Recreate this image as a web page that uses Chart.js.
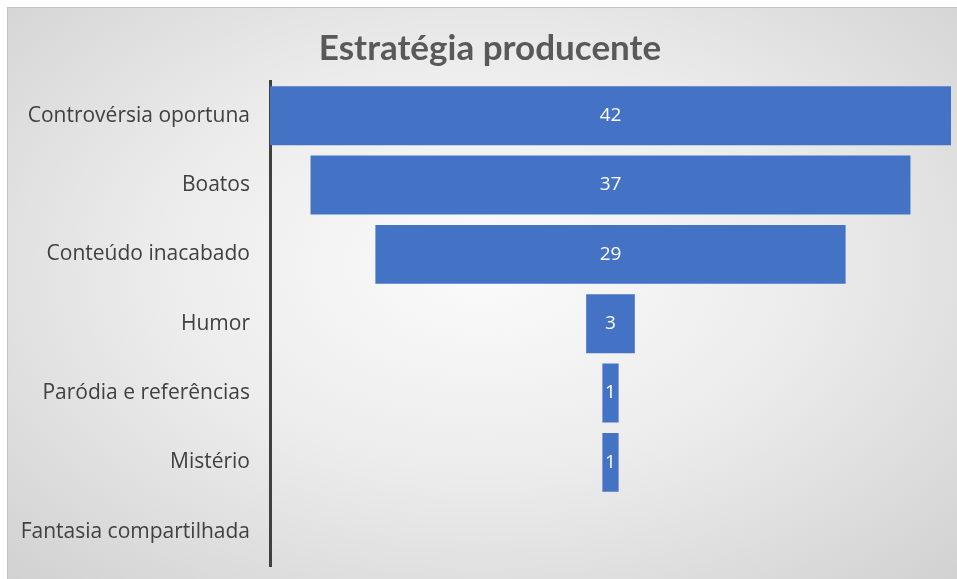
<!DOCTYPE html>
<html>
<head>
<meta charset="utf-8">
<script src="https://cdn.jsdelivr.net/npm/chart.js@4"></script>
<style>
  html, body { margin: 0; padding: 0; background: #fff; overflow: hidden; }
  #quadro {
    position: absolute; left: 7px; top: 7px; width: 950px; height: 572px; overflow: hidden;
    background: radial-gradient(ellipse 75% 80% at 50% 45%, #fbfbfb 0%, #ececec 45%, #cfcfcf 100%);
    border-top: 1px solid #c4c4c4; border-left: 1px solid #c4c4c4;
  }
  #grafico { position: absolute; left: -14px; top: 0; }
</style>
</head>
<body>
<div id="quadro"><canvas id="grafico" width="992" height="591"></canvas></div>
<script>
const titulo = "Estratégia producente";
const categorias = [
  "Controvérsia oportuna",
  "Boatos",
  "Conteúdo inacabado",
  "Humor",
  "Paródia e referências",
  "Mistério",
  "Fantasia compartilhada"
];
const valores = [42, 37, 29, 3, 1, 1, 0];

const maximo = Math.max(...valores);
// barras flutuantes centradas para formar o funil
const faixas = valores.map(v => [(maximo - v) / 2, (maximo + v) / 2]);

const rotulosValores = {
  id: "rotulosValores",
  afterDatasetsDraw(chart) {
    const ctx = chart.ctx;
    const meta = chart.getDatasetMeta(0);
    ctx.save();
    ctx.fillStyle = "#ffffff";
    ctx.font = "19px 'Open Sans'";
    ctx.textAlign = "center";
    ctx.textBaseline = "middle";
    meta.data.forEach((barra, i) => {
      if (valores[i] <= 0) return;
      const pos = barra.getProps(["x", "base", "y"], true);
      ctx.fillText(String(valores[i]), (pos.x + pos.base) / 2, pos.y);
    });
    ctx.restore();
  }
};

// titulo desenhado a mao para ficar um pouco a direita do centro, como no original
const tituloDeslocado = {
  id: "tituloDeslocado",
  afterDraw(chart) {
    const ctx = chart.ctx;
    ctx.save();
    ctx.fillStyle = "#595959";
    ctx.font = "bold 35px Lato";
    ctx.textAlign = "center";
    ctx.textBaseline = "middle";
    ctx.fillText(titulo, 496, 41);
    ctx.restore();
  }
};

const ctx = document.getElementById("grafico").getContext("2d");
new Chart(ctx, {
  type: "bar",
  data: {
    labels: categorias,
    datasets: [{
      data: faixas,
      backgroundColor: "#4472c4",
      borderWidth: 0,
      borderSkipped: false,
      categoryPercentage: 0.85,
      barPercentage: 1
    }]
  },
  options: {
    indexAxis: "y",
    responsive: false,
    animation: false,
    layout: { padding: { left: 0, right: 35, top: 73, bottom: 0 } },
    plugins: {
      legend: { display: false },
      tooltip: { enabled: false },
      title: { display: false }
    },
    scales: {
      x: {
        min: 0,
        max: maximo,
        display: false
      },
      y: {
        afterFit(escala) { escala.width = 276; },
        grid: { display: false, drawTicks: false },
        border: { display: true, color: "#404040", width: 3 },
        ticks: {
          color: "#404040",
          font: { family: "Open Sans", size: 21 },
          padding: 20
        }
      }
    }
  },
  plugins: [rotulosValores, tituloDeslocado]
});
</script>
</body>
</html>
